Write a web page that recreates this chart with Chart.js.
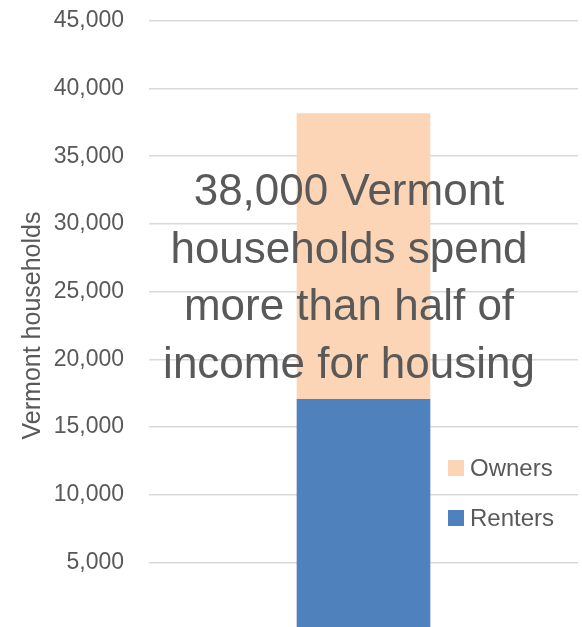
<!DOCTYPE html>
<html>
<head>
<meta charset="utf-8">
<script src="https://cdn.jsdelivr.net/npm/chart.js@4"></script>
<style>
  html, body { margin: 0; padding: 0; background: #fff; overflow: hidden; }
  #wrap { position: absolute; left: 0; top: -18px; width: 582px; height: 687px; }
</style>
</head>
<body>
<div id="wrap"><canvas id="chart"></canvas></div>
<script>
const categories = [''];
const renters = [17050];
const owners = [21100];
const yMin = 0, yMax = 45000, yStep = 5000;
const axisTitle = 'Vermont households';
const overlayLines = ['38,000 Vermont', 'households spend', 'more than half of', 'income for housing'];

const textColor = '#595959';
const fontFamily = '"Liberation Sans", Arial, sans-serif';
const shift = 18; // canvas sits 18px above the page top

// big centred message plus the legend in the lower right
const overlay = {
    id: 'overlay',
    afterDatasetsDraw(chart) {
        const ctx = chart.ctx;
        ctx.save();
        ctx.fillStyle = textColor;
        ctx.font = '44px ' + fontFamily;
        ctx.textAlign = 'center';
        ctx.textBaseline = 'alphabetic';
        overlayLines.forEach((line, i) => {
            ctx.fillText(line, 349, shift + 205 + i * 57.5);
        });

        // legend: top item is the top of the stack
        const sets = chart.data.datasets.slice().reverse();
        ctx.font = '24px ' + fontFamily;
        ctx.textAlign = 'left';
        ctx.textBaseline = 'middle';
        sets.forEach((ds, i) => {
            const y = shift + 468 + i * 50;
            ctx.fillStyle = ds.backgroundColor;
            ctx.fillRect(448, y - 8, 16, 16);
            ctx.fillStyle = textColor;
            ctx.fillText(ds.label, 470, y + 1);
        });
        ctx.restore();
    }
};

new Chart(document.getElementById('chart'), {
    type: 'bar',
    data: {
        labels: categories,
        datasets: [
            { label: 'Renters', data: renters, backgroundColor: '#4F81BD', barThickness: 133 },
            { label: 'Owners', data: owners, backgroundColor: '#FBD5B5', barThickness: 133 }
        ]
    },
    options: {
        responsive: true,
        maintainAspectRatio: false,
        animation: false,
        layout: { padding: { top: 3, right: 4, bottom: 0, left: 18 } },
        plugins: {
            legend: { display: false },
            tooltip: { enabled: false }
        },
        scales: {
            x: {
                stacked: true,
                display: false
            },
            y: {
                stacked: true,
                min: yMin,
                max: yMax,
                afterFit: scale => { scale.width = 131; },
                border: { display: false },
                grid: { color: '#D9D9D9', lineWidth: 1.5, drawTicks: false, tickLength: 0 },
                ticks: {
                    stepSize: yStep,
                    padding: 25,
                    color: textColor,
                    font: { family: fontFamily, size: 23 },
                    callback: v => v === 0 ? '' : v.toLocaleString('en-US')
                },
                title: {
                    display: true,
                    text: axisTitle,
                    color: textColor,
                    font: { family: fontFamily, size: 25 },
                    padding: { top: 0, bottom: 0 }
                }
            }
        }
    },
    plugins: [overlay]
});
</script>
</body>
</html>
